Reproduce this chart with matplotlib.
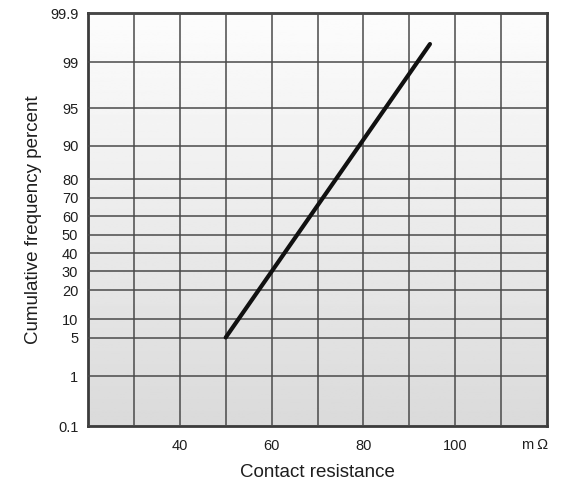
import matplotlib
matplotlib.use("Agg")
import matplotlib.pyplot as plt
from numpy import array, interp, linspace

# Cumulative frequency axis (probability paper, as drawn on the chart)
percent_ticks = [0.1, 1, 5, 10, 20, 30, 40, 50, 60, 70, 80, 90, 95, 99, 99.9]
percent_labels = ["0.1", "1", "5", "10", "20", "30", "40", "50", "60", "70",
                  "80", "90", "95", "99", "99.9"]

# Contact resistance axis
resistance_ticks = [40, 60, 80, 100]
resistance_grid = [30, 40, 50, 60, 70, 80, 90, 100, 110]

# Distribution line end points (m ohm, percent)
line_resistance = [50, 94.5]
line_percent = [5, 99.33]

# Where each percent grid line sits on the paper (0 = bottom, 1 = top)
paper_pixels = array([426, 376, 337.5, 319, 290, 271, 253, 234.5, 216, 197.5,
                      179, 145.5, 108, 62, 13])
paper_frac = (426 - paper_pixels) / (426 - 13)


def to_paper(v):
    return interp(v, percent_ticks, paper_frac)


def from_paper(f):
    return interp(f, paper_frac, percent_ticks)


plt.rcParams["font.family"] = ["Liberation Sans", "DejaVu Sans"]

fig = plt.figure(figsize=(5.71, 4.94), dpi=100)
ax = fig.add_axes([88 / 571, 1 - 426 / 494, 459 / 571, 413 / 494])

ax.set_yscale("function", functions=(to_paper, from_paper))
ax.set_xlim(20, 120)
ax.set_ylim(0.1, 99.9)

# Grey gradient background, light at the top, darker at the bottom
grad = linspace(0.855, 0.99, 256).reshape(-1, 1)
ax.imshow(grad, cmap="gray", vmin=0, vmax=1, aspect="auto", origin="lower",
          extent=[0, 1, 0, 1], transform=ax.transAxes, zorder=0)

# Grid
ax.set_yticks(percent_ticks)
ax.set_yticklabels(percent_labels)
ax.set_xticks(resistance_ticks)
ax.set_xticklabels([str(t) for t in resistance_ticks])
ax.set_xticks(resistance_grid, minor=True)
ax.set_yticks([], minor=True)
ax.grid(True, which="both", color="#4a4a4a", lw=1.1, zorder=1)
ax.set_axisbelow(False)
ax.tick_params(which="both", length=0, labelsize=10.5, colors="#1e1e1e")
ax.tick_params(axis="y", pad=7)
ax.tick_params(axis="x", pad=9)

for spine in ax.spines.values():
    spine.set_color("#3c3c3c")
    spine.set_linewidth(2)

# The distribution line
ax.plot(line_resistance, line_percent, color="#111111", lw=3,
        solid_capstyle="round", zorder=3)

# Unit label on the x axis
ax.text(117.5, -0.030, "m\u2009\u03a9", transform=ax.get_xaxis_transform(),
        ha="center", va="top", fontsize=10.5, color="#1e1e1e")

ax.set_xlabel("Contact resistance", fontsize=13.5, color="#1e1e1e", labelpad=8)
ax.set_ylabel("Cumulative frequency percent", fontsize=13.5, color="#1e1e1e",
              labelpad=6)

fig.savefig("out.png", dpi=100)
